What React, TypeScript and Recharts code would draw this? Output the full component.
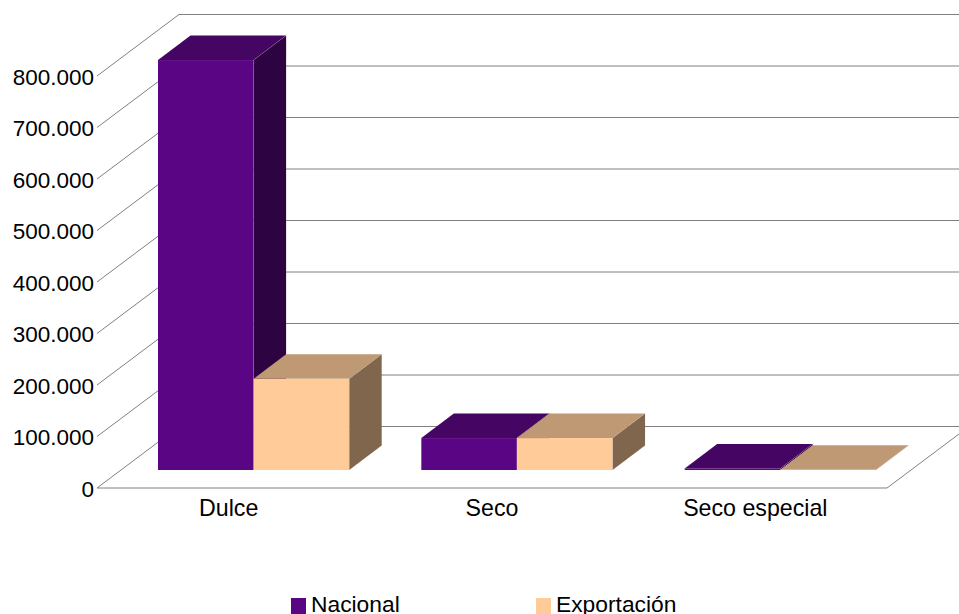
import { BarChart, Bar, XAxis, YAxis, CartesianGrid, Legend } from 'recharts';

const categories = ['Dulce', 'Seco', 'Seco especial'];
const nacional = [796000, 62000, 3000];
const exportacion = [177000, 62000, 300];
const yTicks = [0, 100000, 200000, 300000, 400000, 500000, 600000, 700000, 800000];

const data = categories.map((name, i) => ({
  name,
  Nacional: nacional[i],
  Exportación: exportacion[i],
}));

const FONT = '"Liberation Sans", Arial, sans-serif';
const PURPLE = '#5a0684';
const PEACH = '#ffcc99';

// how far the walls and the boxes sit behind the front plane
const WALL_DX = 82;
const WALL_DY = 61.5;
const BAR_SHIFT_X = 25;
const BAR_SHIFT_Y = 18;
const DEPTH_X = 32.5;
const DEPTH_Y = 24.5;

function shade(hex: string, f: number) {
  const n = parseInt(hex.slice(1), 16);
  const c = (v: number) => Math.round(v * f);
  return `rgb(${c((n >> 16) & 255)},${c((n >> 8) & 255)},${c(n & 255)})`;
}

function Box3D(props: any) {
  const { x, y, width, height, fill } = props;
  const l = x + BAR_SHIFT_X;
  const r = l + width;
  const t = y - BAR_SHIFT_Y;
  const b = t + height;
  const topFace = `${l},${t} ${r},${t} ${r + DEPTH_X},${t - DEPTH_Y} ${l + DEPTH_X},${t - DEPTH_Y}`;
  const sideFace = `${r},${t} ${r + DEPTH_X},${t - DEPTH_Y} ${r + DEPTH_X},${b - DEPTH_Y} ${r},${b}`;
  return (
    <g>
      <polygon points={sideFace} fill={shade(fill, 0.5)} />
      <polygon points={topFace} fill={shade(fill, 0.75)} />
      <rect x={l} y={t} width={width} height={height} fill={fill} />
      {/* faint edge where the faces meet */}
      <polyline
        points={`${r + DEPTH_X},${t - DEPTH_Y} ${r},${t} ${r},${b}`}
        fill="none"
        stroke="#b3b3b3"
        strokeOpacity={0.4}
        strokeWidth={0.6}
      />
    </g>
  );
}

function WallLine(props: any) {
  const { x1, y1, x2, y, height } = props;
  const isFloor = Math.abs(y1 - (y + height)) < 0.5;
  const points = `${x1},${y1} ${x1 + WALL_DX},${y1 - WALL_DY} 959,${y1 - WALL_DY}`;
  return (
    <g>
      <polyline points={points} fill="none" stroke="#808080" strokeWidth={1} />
      {isFloor && (
        <polyline
          points={`${x1},${y1} ${x2},${y1} ${x2 + WALL_DX},${y1 - WALL_DY}`}
          fill="none"
          stroke="#808080"
          strokeWidth={1}
        />
      )}
    </g>
  );
}

function LegendBox({ payload }: any) {
  return (
    <div style={{ display: 'flex', marginLeft: 291, fontFamily: FONT, fontSize: 22.8, color: '#000' }}>
      {(payload || []).map((item: any) => (
        <div key={item.value} style={{ width: 245, display: 'flex', alignItems: 'flex-end', lineHeight: '26px' }}>
          <span style={{ width: 15, height: 16, background: item.color, marginRight: 5, marginBottom: 2 }} />
          <span style={{ position: 'relative', top: 1 }}>{item.value}</span>
        </div>
      ))}
    </div>
  );
}

export default function App() {
  return (
    <div style={{ position: 'absolute', left: 0, top: 0, width: 959, height: 614, overflow: 'hidden', background: '#fff' }}>
      <BarChart
        width={959}
        height={614}
        data={data}
        barSize={95.6}
        barGap={0}
        margin={{ top: 76, right: 72, bottom: 96, left: 0 }}
      >
        <CartesianGrid vertical={false} horizontal={(p: any) => <WallLine key={p.key} {...p} />} />
        <XAxis
          dataKey="name"
          height={30}
          axisLine={false}
          tickLine={false}
          tickSize={0}
          tickMargin={12}
          interval={0}
          tick={{ fontSize: 23.2, fontFamily: FONT, fill: '#000' }}
        />
        <YAxis
          width={97}
          domain={[0, 800000]}
          ticks={yTicks}
          interval={0}
          axisLine={false}
          tickLine={false}
          tickSize={0}
          tickMargin={3}
          tickFormatter={(v: number) => String(v).replace(/\B(?=(\d{3})+$)/g, '.')}
          tick={{ fontSize: 22.5, fontFamily: FONT, fill: '#000', dy: 1 }}
        />
        <Legend
          layout="horizontal"
          verticalAlign="middle"
          align="center"
          itemSorter={null}
          wrapperStyle={{ left: 0, top: 590, width: 959 }}
          content={<LegendBox />}
        />
        <Bar dataKey="Nacional" fill={PURPLE} shape={Box3D} isAnimationActive={false} />
        <Bar dataKey="Exportación" fill={PEACH} shape={Box3D} isAnimationActive={false} />
      </BarChart>
    </div>
  );
}
